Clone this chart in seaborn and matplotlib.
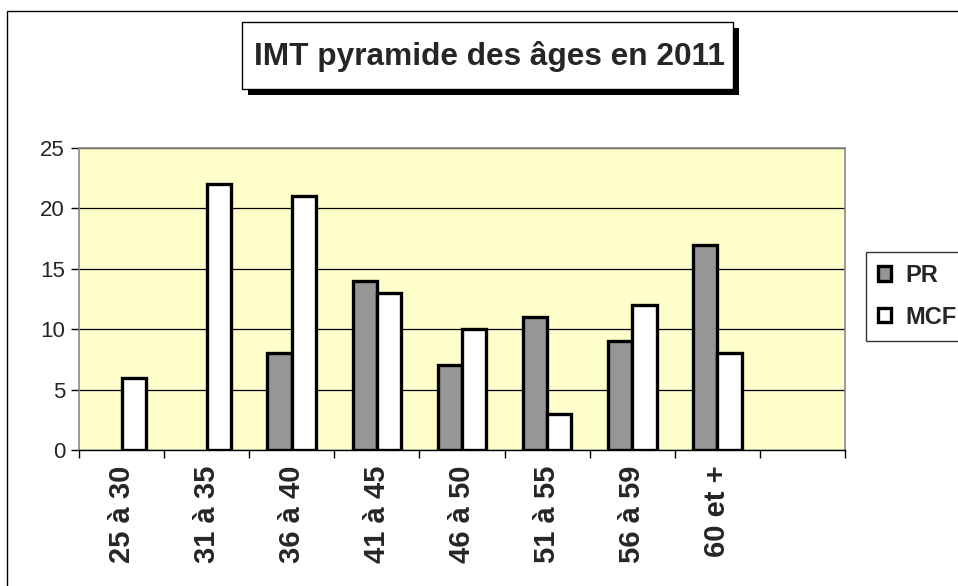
import numpy as np
import pandas as pd
import matplotlib
matplotlib.use('Agg')
import matplotlib.pyplot as plt
from matplotlib.patches import Rectangle, Patch
from matplotlib.ticker import FixedLocator
import seaborn as sns

# Data
categories = ['25 à 30', '31 à 35', '36 à 40', '41 à 45', '46 à 50',
              '51 à 55', '56 à 59', '60 et +', '']
pr_values = [np.nan, np.nan, 8, 14, 7, 11, 9, 17, np.nan]
mcf_values = [6, 22, 21, 13, 10, 3, 12, 8, np.nan]
series = ['PR', 'MCF']
colors = {'PR': '#969696', 'MCF': '#FFFFFF'}
title = 'IMT pyramide des âges en 2011'

df = pd.DataFrame({
    'tranche': categories * 2,
    'serie': ['PR'] * len(categories) + ['MCF'] * len(categories),
    'effectif': pr_values + mcf_values,
})

sns.set_style('white')
plt.rcParams['font.family'] = ['Liberation Sans', 'DejaVu Sans']

W, H = 958, 586
fig = plt.figure(figsize=(W / 100, H / 100), dpi=100)


def px(x0, y0, x1, y1):
    # pixel box (top-left origin) -> figure fraction rect
    return (x0 / W, 1 - y1 / H, (x1 - x0) / W, (y1 - y0) / H)


ax = fig.add_axes(px(79, 148, 845, 450))
ax.set_facecolor('#FFFFCC')

sns.barplot(data=df, x='tranche', y='effectif', hue='serie',
            order=categories, hue_order=series, palette=colors,
            width=0.572, saturation=1, errorbar=None,
            edgecolor='black', linewidth=2.4, legend=False, ax=ax)

ax.set_xlim(-0.5, len(categories) - 0.5)
ax.set_ylim(0, 25)
ax.set_yticks([0, 5, 10, 15, 20, 25])
ax.yaxis.grid(True, color='black', linewidth=0.9)
ax.set_axisbelow(True)
ax.set_xlabel('')
ax.set_ylabel('')

for side in ['top', 'right', 'left']:
    ax.spines[side].set_color('#888888')
    ax.spines[side].set_linewidth(1.2)
ax.spines['bottom'].set_color('black')
ax.spines['bottom'].set_linewidth(1.0)

ax.tick_params(axis='y', direction='out', length=6, width=1,
               color='black', labelsize=16, pad=4, left=True)
ax.xaxis.set_minor_locator(FixedLocator(np.arange(-0.5, len(categories), 1)))
ax.tick_params(axis='x', which='minor', direction='out', length=6,
               width=1, color='black', bottom=True)
ax.tick_params(axis='x', which='major', length=0, pad=11)
for lbl in ax.get_xticklabels():
    lbl.set_rotation(90)
    lbl.set_fontsize(21)
    lbl.set_fontweight('bold')
    lbl.set_va('top')
    lbl.set_ha('center')

# title box with drop shadow
shadow = px(248, 28, 739, 95)
box = px(242, 22, 733, 89)
fig.patches.append(Rectangle(shadow[:2], *shadow[2:],
                             transform=fig.transFigure, facecolor='black',
                             edgecolor='none', zorder=1))
fig.patches.append(Rectangle(box[:2], *box[2:],
                             transform=fig.transFigure, facecolor='white',
                             edgecolor='black', linewidth=1.0, zorder=2))
fig.text(489 / W, 1 - 56 / H, title, ha='center', va='center',
         fontsize=22.8, fontweight='bold', zorder=3)

# outer chart frame
fig.patches.append(Rectangle((7 / W, -0.1), 1.2, 1 - 11 / H + 0.1,
                             transform=fig.transFigure, facecolor='none',
                             edgecolor='black', linewidth=1.0, zorder=0))

handles = [Patch(facecolor=colors[s], edgecolor='black', linewidth=2.4, label=s)
           for s in series]
leg = fig.legend(handles=handles, loc='upper left',
                 bbox_to_anchor=(866 / W, 1 - 252 / H),
                 prop={'weight': 'bold', 'size': 17},
                 frameon=True, fancybox=False, edgecolor='black',
                 handlelength=0.55, handleheight=0.55, handletextpad=0.6,
                 labelspacing=0.8, borderpad=0.5, borderaxespad=0)
leg.get_frame().set_linewidth(1.0)

fig.savefig('out.png', dpi=100)
